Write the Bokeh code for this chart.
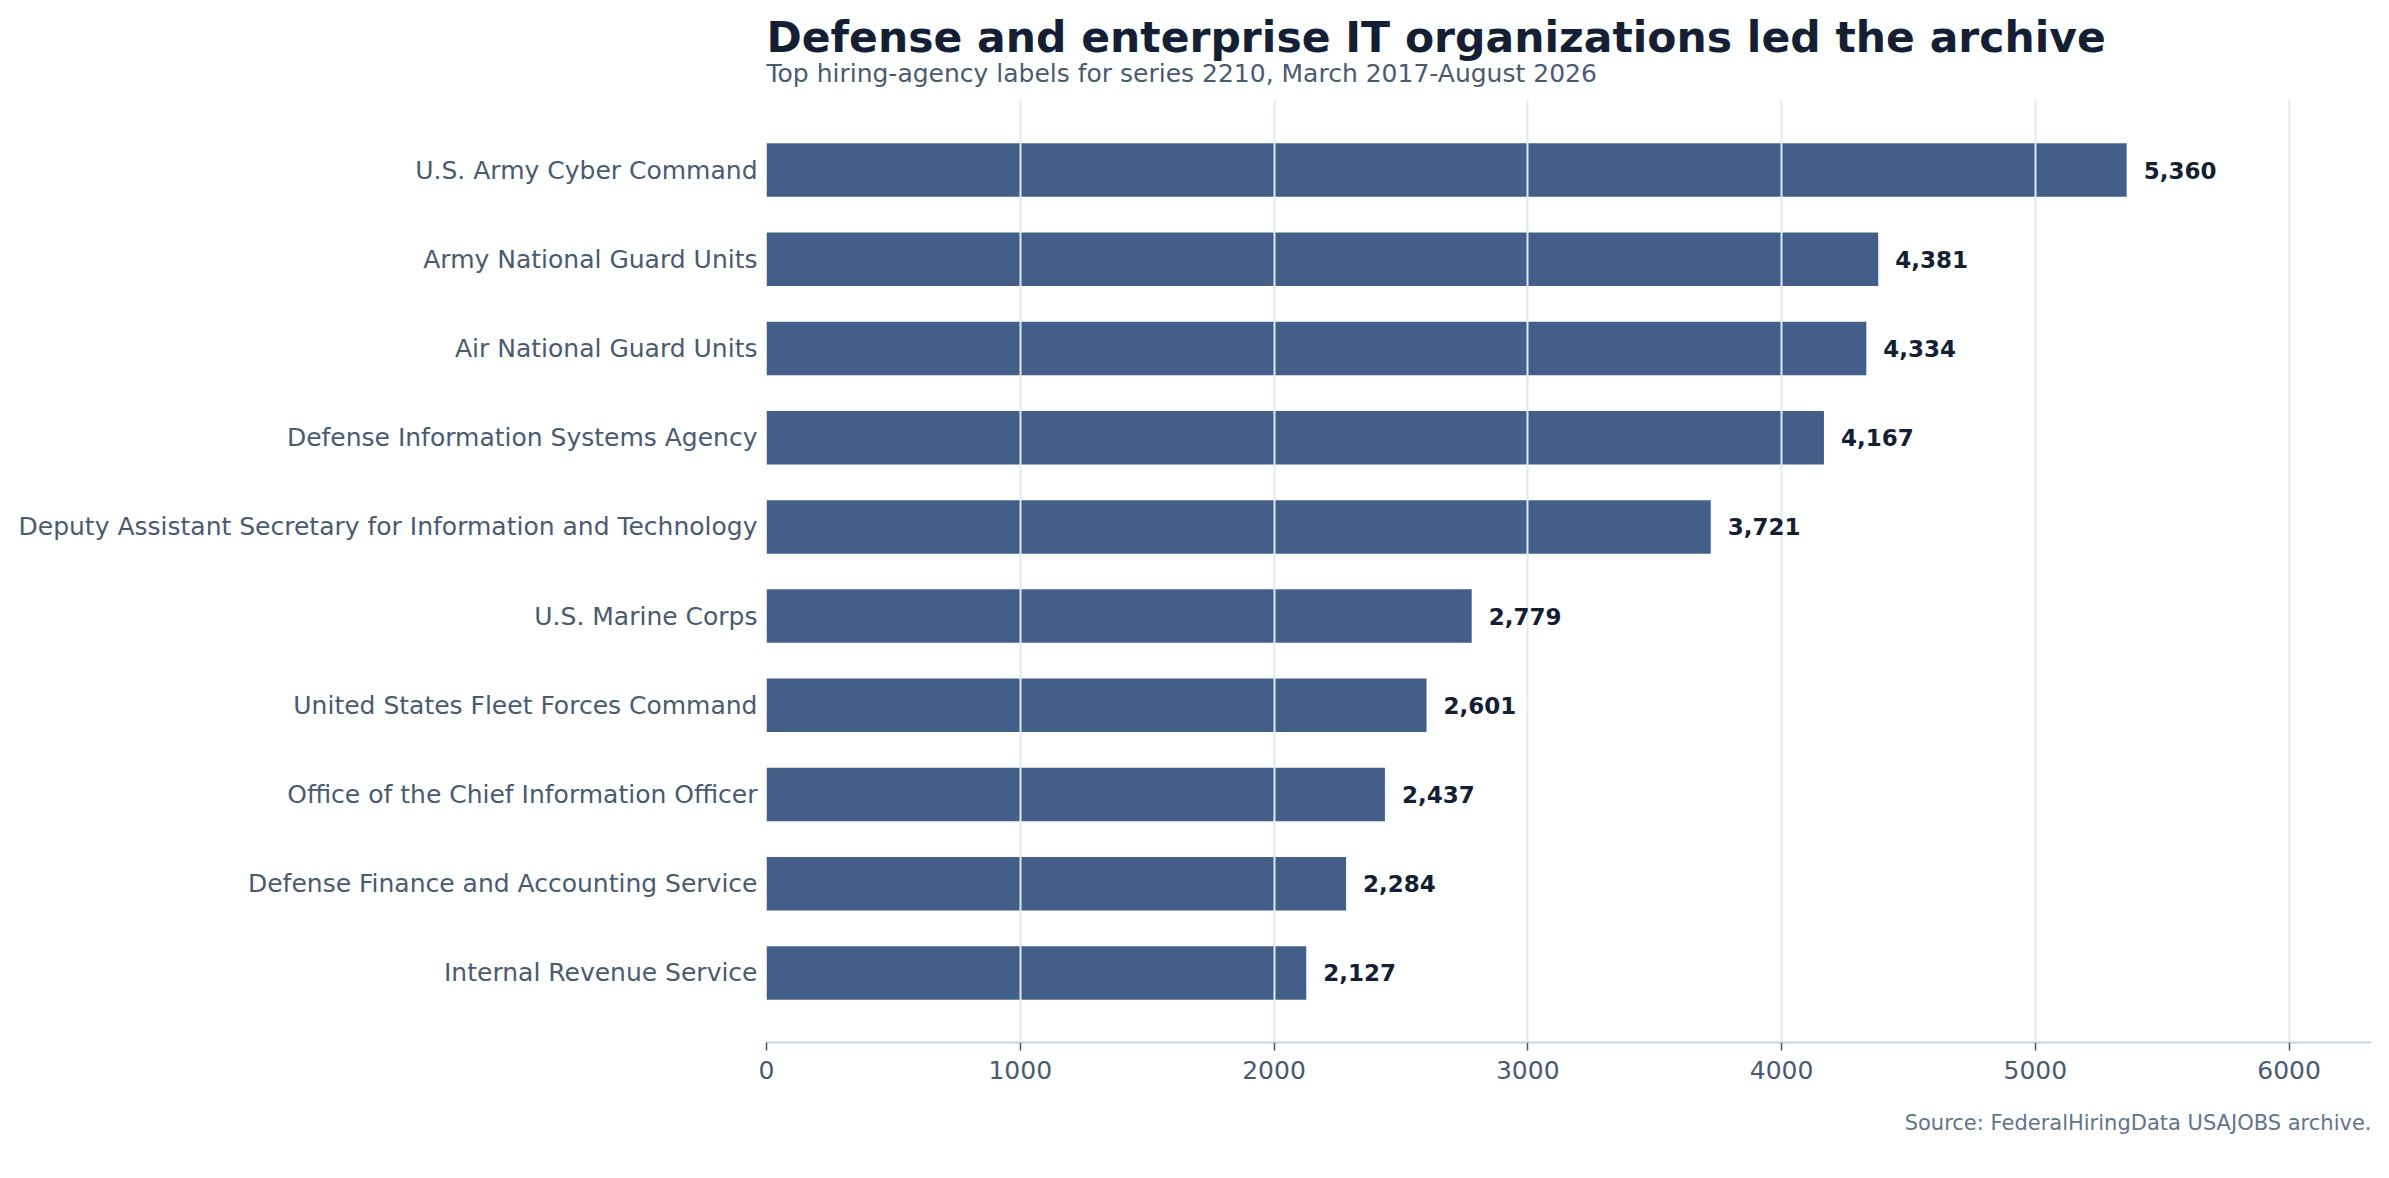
from bokeh.plotting import figure
from bokeh.models import ColumnDataSource, Range1d, FixedTicker, Title
from bokeh.core.properties import value
from bokeh.embed import file_html
from bokeh.resources import INLINE

# data (largest first, as shown top to bottom)
agencies = [
    "U.S. Army Cyber Command",
    "Army National Guard Units",
    "Air National Guard Units",
    "Defense Information Systems Agency",
    "Deputy Assistant Secretary for Information and Technology",
    "U.S. Marine Corps",
    "United States Fleet Forces Command",
    "Office of the Chief Information Officer",
    "Defense Finance and Accounting Service",
    "Internal Revenue Service",
]
postings = [5360, 4381, 4334, 4167, 3721, 2779, 2601, 2437, 2284, 2127]
x_ticks = [0, 1000, 2000, 3000, 4000, 5000, 6000]
source_note = "Source: FederalHiringData USAJOBS archive."

FONT = "DejaVu Sans"
n = len(agencies)
ypos = [n - 1 - i for i in range(n)]

src = ColumnDataSource(data=dict(
    y=ypos,
    count=postings,
    label=["{:,}".format(v) for v in postings],
))

p = figure(width=2381, height=1176, title=None,
           x_range=Range1d(0, max(postings) * 1.18),
           y_range=Range1d(-0.78, n - 1 + 0.78),
           output_backend="svg", toolbar_location=None,
           min_border_left=766, min_border_right=10,
           min_border_top=100, min_border_bottom=134)
p.outline_line_color = None
p.background_fill_color = "white"
p.border_fill_color = "white"

# bars
p.hbar(y="y", right="count", left=0, height=0.6, source=src,
       fill_color="#435e89", line_color=None)

# value labels
p.text(x="count", y="y", text="label", source=src, x_offset=17,
       text_baseline="middle", text_align="left",
       text_font=value(FONT), text_font_style="bold",
       text_font_size="23px", text_color="#141f35", level="annotation")

# grid drawn over the bars
p.ygrid.grid_line_color = None
p.xgrid.grid_line_color = "#e2e8f0"
p.xgrid.grid_line_width = 2
p.xgrid.level = "guide"

# x axis
p.xaxis.ticker = FixedTicker(ticks=x_ticks)
p.xaxis.axis_line_color = "#cbd5e1"
p.xaxis.axis_line_width = 2
p.xaxis.major_tick_line_color = "#475569"
p.xaxis.major_tick_line_width = 1.5
p.xaxis.major_tick_out = 8
p.xaxis.major_tick_in = 0
p.xaxis.minor_tick_line_color = None
p.xaxis.major_label_standoff = 10
p.xaxis.major_label_text_font = FONT
p.xaxis.major_label_text_font_size = "25px"
p.xaxis.major_label_text_color = "#4a5a73"

# y axis with agency names
p.yaxis.ticker = FixedTicker(ticks=ypos)
p.yaxis.major_label_overrides = {y: name for y, name in zip(ypos, agencies)}
p.yaxis.axis_line_color = None
p.yaxis.major_tick_line_color = None
p.yaxis.major_tick_out = 0
p.yaxis.major_tick_in = 0
p.yaxis.minor_tick_line_color = None
p.yaxis.major_label_standoff = 9
p.yaxis.major_label_text_font = FONT
p.yaxis.major_label_text_font_size = "25px"
p.yaxis.major_label_text_color = "#4a5a73"

# subtitle first (closest to the frame), then title; the negative standoff
# pulls the title down closer to the subtitle
p.add_layout(Title(text="Top hiring-agency labels for series 2210, March 2017-August 2026",
                   align="left", text_font=FONT, text_font_size="25px",
                   text_font_style="normal", text_color="#4a5a73",
                   standoff=26), "above")
p.add_layout(Title(text="Defense and enterprise IT organizations led the archive",
                   align="left", text_font=FONT, text_font_size="42.5px",
                   text_font_style="bold", text_color="#141f35",
                   standoff=-36), "above")

# source note, right aligned under the axis
p.add_layout(Title(text=source_note,
                   align="right", text_font=FONT, text_font_size="21px",
                   text_font_style="normal", text_color="#64748b",
                   standoff=55), "below")

open("out.html", "w").write(file_html(p, INLINE))
